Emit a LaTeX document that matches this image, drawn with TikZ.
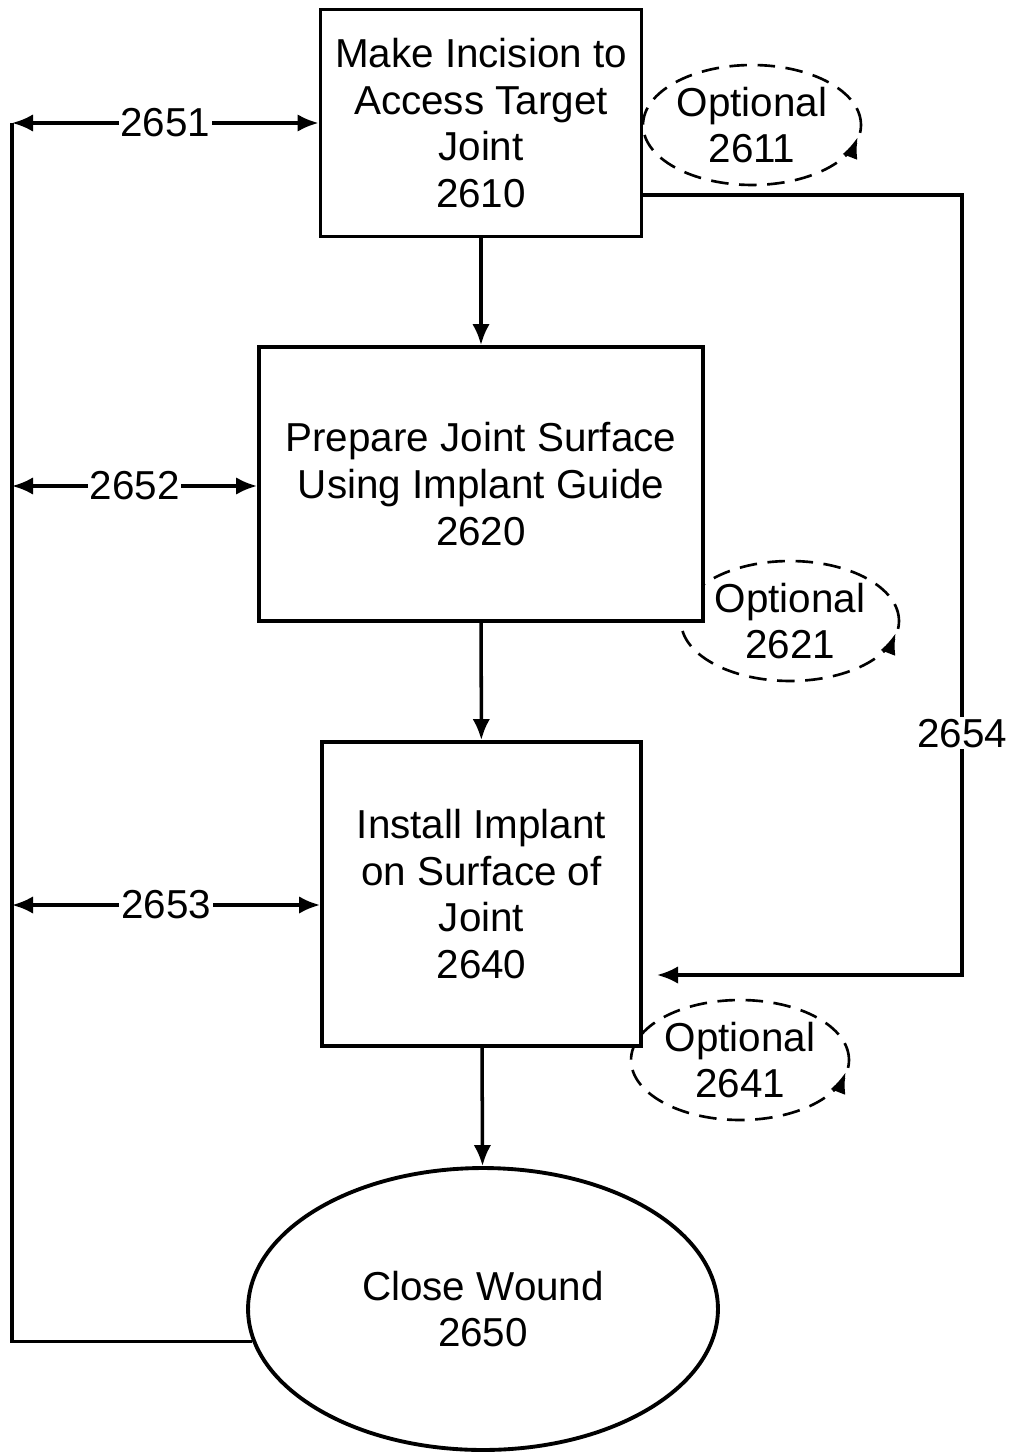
\documentclass[tikz,border=0pt]{standalone}
\usepackage{fontspec}
\setmainfont{Liberation Sans}
\usetikzlibrary{shapes.geometric, arrows.meta, positioning, calc}

\begin{document}
\begin{tikzpicture}[
    x=0.02cm, y=-0.02cm,
    every node/.style={font=\fontsize{23}{26.5}\selectfont, align=center},
    stepbox/.style={draw, line width=2.2pt, fill=white, inner sep=0pt},
    endstep/.style={draw, ellipse, line width=2.2pt, fill=white, inner sep=0pt,
                    minimum width=9.4cm, minimum height=5.64cm},
    optional/.style={draw, ellipse, dashed, dash pattern=on 10pt off 6pt,
                     line width=1.5pt, inner sep=0pt,
                     minimum width=4.36cm, minimum height=2.4cm},
    flow/.style={line width=2pt, -{Latex[length=12pt, width=10pt]}},
    both/.style={line width=2pt, {Latex[length=12pt, width=10pt]}-{Latex[length=12pt, width=10pt]}},
    loop/.style={line width=1.5pt, -{Latex[length=12pt, width=9pt]}},
    tag/.style={fill=white, inner sep=1pt}
]
    \useasboundingbox (0,0) rectangle (1010,1456);

    % optional loops (behind the steps)
    \node[optional] (o2611) at (752,125) {Optional\\2611};
    \node[optional] (o2621) at (790,621) {Optional\\2621};
    \node[optional] (o2641) at (740,1060) {Optional\\2641};
    \draw[loop] ($(o2611.center)+(30:108 and 59)$) arc[start angle=30, end angle=12, x radius=108, y radius=59];
    \draw[loop] ($(o2621.center)+(30:108 and 59)$) arc[start angle=30, end angle=12, x radius=108, y radius=59];
    \draw[loop] ($(o2641.center)+(30:108 and 59)$) arc[start angle=30, end angle=12, x radius=108, y radius=59];

    % steps
    \node[stepbox, minimum width=6.42cm, minimum height=4.54cm] (b2610) at (481,123)
        {Make Incision to\\Access Target\\Joint\\2610};
    \node[stepbox, minimum width=8.88cm, minimum height=5.48cm] (b2620) at (481,484)
        {Prepare Joint Surface\\Using Implant Guide\\2620};
    \node[stepbox, minimum width=6.38cm, minimum height=6.08cm] (b2640) at (481.5,894)
        {Install Implant\\on Surface of\\Joint\\2640};
    \node[endstep] (e2650) at (483,1309) {Close Wound\\2650};

    \draw[flow] (b2610) -- (b2620);
    \draw[flow] (b2620) -- (b2640);
    \draw[flow] (b2640) -- (e2650);

    % return paths on the left
    \coordinate (l1) at (12,123);
    \coordinate (l2) at (12,486);
    \coordinate (l3) at (12,905);
    \draw[line width=2pt] (e2650.188) -| (l1);
    \draw[both] (l1) -- node[tag] {2651} (l1 -| b2610.west);
    \draw[both] (l2) -- node[tag] {2652} (l2 -| b2620.west);
    \draw[both] (l3) -- node[tag] {2653} (l3 -| b2640.west);

    % skip path on the right
    \coordinate (r1) at (962,195);
    \coordinate (r2) at (962,975);
    \draw[flow, shorten >=8pt] (r1 -| b2610.east) -- (r1)
        -- node[tag, pos=0.69] {2654} (r2) -- (r2 -| b2640.east);
\end{tikzpicture}
\end{document}
